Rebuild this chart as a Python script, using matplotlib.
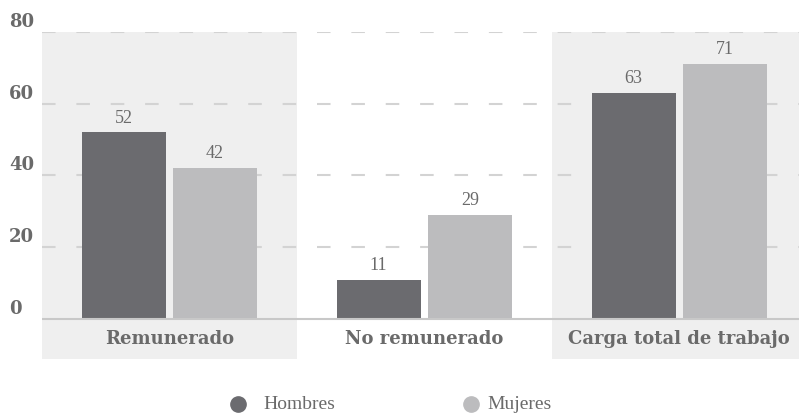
import matplotlib
matplotlib.use("Agg")
import matplotlib.pyplot as plt
import matplotlib.transforms as mtransforms
from matplotlib.lines import Line2D
import numpy as np

# Datos
categorias = ["Remunerado", "No remunerado", "Carga total de trabajo"]
hombres = [52, 11, 63]
mujeres = [42, 29, 71]
series = ["Hombres", "Mujeres"]
yticks = [0, 20, 40, 60, 80]

COLOR_H = "#6b6b6f"
COLOR_M = "#bcbcbe"
COLOR_BANDA = "#efefef"
COLOR_TEXTO = "#6a6a6a"
FUENTE_BOLD = "DejaVu Serif"
FUENTE = "Liberation Serif"

fig = plt.figure(figsize=(7.99, 4.14), dpi=100)
ax = fig.add_axes([42 / 799, 1 - 360 / 414, 1 - 42 / 799, (360 - 33) / 414])

x = np.arange(len(categorias))
ancho = 0.33
desp = 0.179

# bandas grises en categorias alternas
for i in range(len(categorias)):
    if i % 2 == 0:
        ax.axvspan(i - 0.5, i + 0.5, color=COLOR_BANDA, zorder=0, lw=0)

for v in yticks[1:]:
    ax.axhline(v, color="#d3d3d3", lw=1.5, ls=(0, (6.5, 10)), zorder=1)
ax.axhline(0, color="#c8c8c8", lw=1.5, zorder=3)

b1 = ax.bar(x - desp, hombres, ancho, color=COLOR_H, zorder=2)
b2 = ax.bar(x + desp, mujeres, ancho, color=COLOR_M, zorder=2)

for barras, vals in ((b1, hombres), (b2, mujeres)):
    for b, v in zip(barras, vals):
        ax.annotate(str(v), (b.get_x() + b.get_width() / 2, v), xytext=(0, 5),
                    textcoords="offset points", ha="center", va="bottom",
                    fontsize=13, color=COLOR_TEXTO, family=FUENTE)

for i, c in enumerate(categorias):
    ax.text(i, -5.3, c, ha="center", va="center", fontsize=13, fontweight="bold",
            color=COLOR_TEXTO, family=FUENTE_BOLD)

ax.set_xlim(-0.5, 2.47)
ax.set_ylim(-11.15, 80)
ax.set_xticks([])
for s in ax.spines.values():
    s.set_visible(False)
ax.patch.set_alpha(0)

# etiquetas del eje y, un poco por encima de cada linea
ax.set_yticks([])
subir = mtransforms.ScaledTranslation(0, 11 / 100, fig.dpi_scale_trans)
trans = mtransforms.blended_transform_factory(fig.transFigure, ax.transData) + subir
for t in yticks:
    fig.text(9 / 799, t, str(t), transform=trans, ha="left", va="center",
             fontsize=13, fontweight="bold", color=COLOR_TEXTO, family=FUENTE_BOLD)

# leyenda manual
ly = 1 - 405 / 414
for xc, xt, col, nombre in ((238, 263, COLOR_H, series[0]), (471, 487, COLOR_M, series[1])):
    fig.lines.append(Line2D([xc / 799], [ly], marker="o", markersize=11, color=col,
                            transform=fig.transFigure, ls=""))
    fig.text(xt / 799, ly, nombre, fontsize=14, color=COLOR_TEXTO,
             family=FUENTE, va="center", ha="left")

fig.savefig("out.png", dpi=100)
